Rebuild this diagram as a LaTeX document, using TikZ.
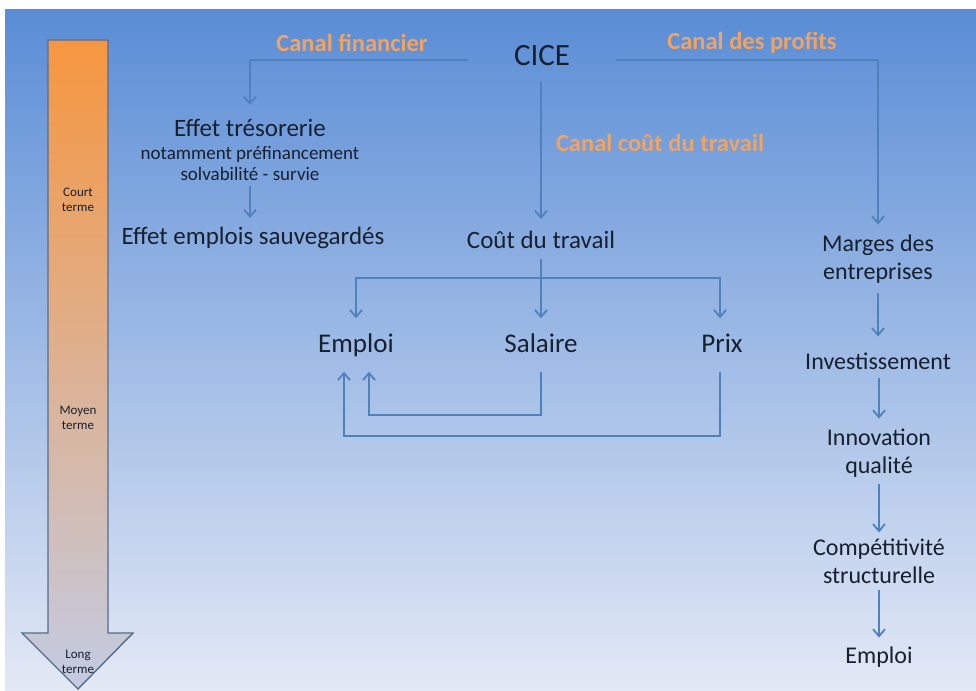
\documentclass[tikz,border=0pt]{standalone}
\usepackage{fontspec}
\setmainfont{Carlito}
\usepackage{xcolor}
\usepackage{tikz}
\usetikzlibrary{arrows.meta, positioning, calc}

\definecolor{bgtop}{HTML}{5A8DD6}
\definecolor{bgmid}{HTML}{A9C1E8}
\definecolor{bgbot}{HTML}{E3E9F5}
\definecolor{timetop}{HTML}{F7963F}
\definecolor{timemid}{HTML}{DDB59C}
\definecolor{timebot}{HTML}{C3CCE3}
\definecolor{timeedge}{HTML}{566C8E}
\definecolor{linkblue}{HTML}{4F81BD}
\definecolor{canalorange}{HTML}{F2A35F}
\definecolor{inktext}{HTML}{17202E}

\begin{document}
\begin{tikzpicture}[x=1pt, y=-1pt,
    main/.style={text=inktext, align=center, inner sep=2pt, font=\fontsize{25}{29}\selectfont},
    small/.style={main, font=\fontsize{19}{21}\selectfont},
    loopitem/.style={main, font=\fontsize{27}{31}\selectfont, text height=18pt, text depth=5pt},
    colitem/.style={main, font=\fontsize{24}{28}\selectfont},
    canal/.style={text=canalorange, inner sep=2pt, font=\bfseries\fontsize{24.5}{28}\selectfont},
    term/.style={text=inktext, align=center, inner sep=1pt, font=\fontsize{13}{15}\selectfont},
    arrow/.style={-{Straight Barb[length=7pt, width=12pt]}, draw=linkblue, line width=1.8pt}
]

\useasboundingbox (0,0) rectangle (976,690);
\shade[top color=bgtop, middle color=bgmid, bottom color=bgbot] (5,10) rectangle (976,690);

\shade[top color=timetop, middle color=timemid, bottom color=timebot]
    (48,40) -- (108,40) -- (108,633) -- (133,633) -- (78,689) -- (22,633) -- (48,633) -- cycle;
\draw[timeedge, line width=1.4pt]
    (48,40) -- (108,40) -- (108,633) -- (133,633) -- (78,689) -- (22,633) -- (48,633) -- cycle;

\node[term] (court) at (78,200) {Court\\terme};
\node[term] (moyen) at (78,418) {Moyen\\terme};
\node[term] (long) at (78,662) {Long\\terme};

\node[canal] (cfin) at (352,43) {Canal financier};
\node[main, font=\fontsize{31}{35}\selectfont] (cice) at (542,56) {CICE};
\node[canal] (cprof) at (752,43) {Canal des profits};
\node[canal] (ctrav) at (660,143) {Canal coût du travail};

\node[main] (tres) at (250,128) {Effet trésorerie};
\node[small, below=5pt of tres] (tresn) {notamment préfinancement\\solvabilité - survie};
\node[main] (sauv) at (253,238) {Effet emplois sauvegardés};

\node[main] (cout) at (541,240) {Coût du travail};
\node[loopitem] (emploi) at (356,346) {Emploi};
\node[loopitem] (salaire) at (541,346) {Salaire};
\node[loopitem] (prix) at (722,346) {Prix};
\coordinate (split) at (541,278);

\node[colitem] (marges) at (878,259) {Marges des\\entreprises};
\node[colitem] (invest) at (878,361) {Investissement};
\node[colitem] (innov) at (879,453) {Innovation\\qualité};
\node[colitem] (compet) at (879,561) {Compétitivité\\structurelle};
\node[colitem] (emploi2) at (879,657) {Emploi};

\draw[arrow, shorten <=44pt] ([yshift=-4pt]cice.west) -| ([yshift=12pt]tres.north);
\draw[arrow, shorten <=44pt] ([yshift=-4pt]cice.east) -| ([yshift=8pt]marges.north);
\draw[arrow, shorten <=14pt, shorten >=10pt] (cout.north |- cice.south) -- (cout.north);
\draw[arrow, shorten <=3pt, shorten >=7pt] (tresn.south) -- (tresn.south |- sauv.north);

\draw[arrow, shorten <=8pt, shorten >=14pt] (cout.south) -- (salaire.north);
\draw[arrow] (split) -| ([yshift=14pt]emploi.north);
\draw[arrow] (split) -| ([xshift=-2pt, yshift=14pt]prix.north);
\draw[arrow] ([yshift=-12pt]salaire.south) -- ++(0,43) -| ([xshift=13pt, yshift=-12pt]emploi.south);
\draw[arrow] ([xshift=-2pt, yshift=-12pt]prix.south) -- ++(0,64) -| ([xshift=-12pt, yshift=-12pt]emploi.south);

\draw[arrow, shorten <=8pt, shorten >=14pt] (marges.south) -- (marges.south |- invest.north);
\draw[arrow, shorten <=6pt, shorten >=8pt] (innov.north |- invest.south) -- (innov.north);
\draw[arrow, shorten <=5pt, shorten >=4pt] (innov.south) -- (compet.north);
\draw[arrow, shorten <=4pt, shorten >=7pt] (compet.south) -- (emploi2.north);

\end{tikzpicture}
\end{document}
